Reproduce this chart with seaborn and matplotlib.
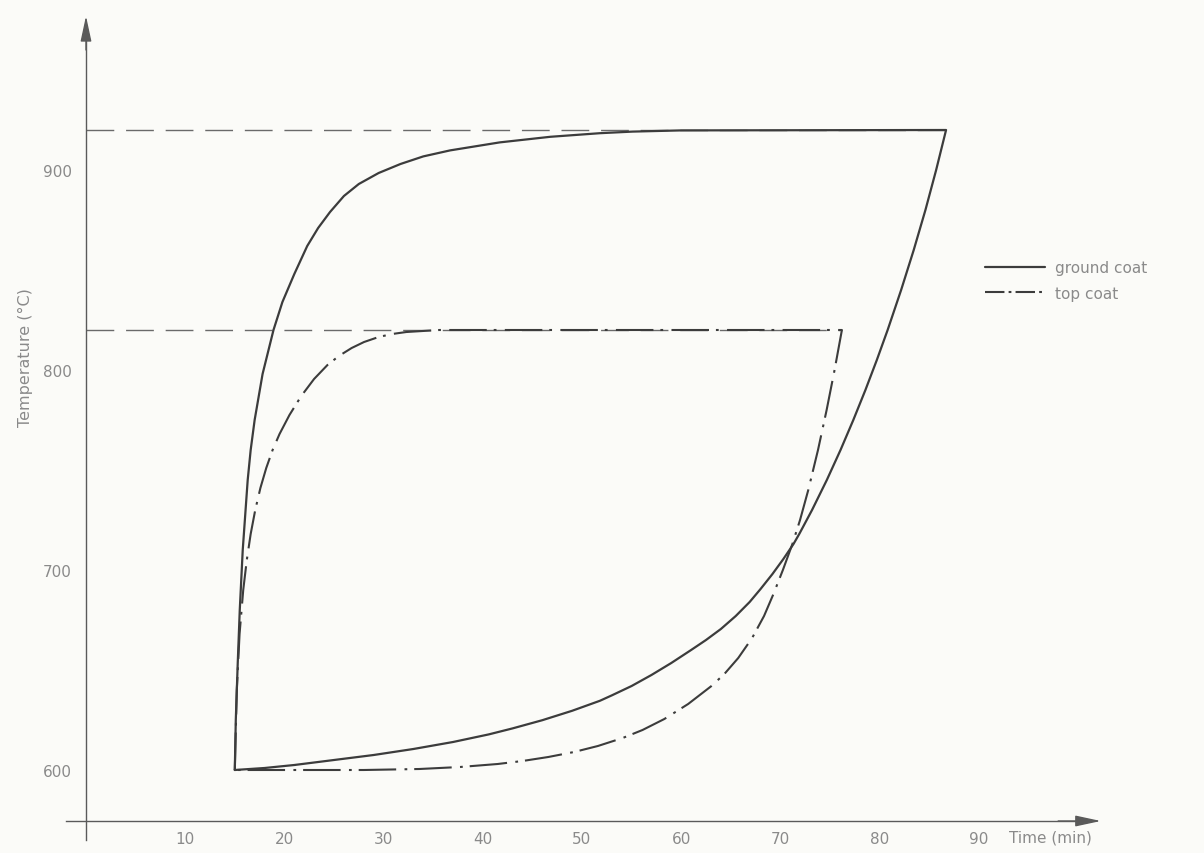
import matplotlib
matplotlib.use("Agg")
import matplotlib.pyplot as plt
from matplotlib.lines import Line2D
import pandas as pd
import seaborn as sns

# Ground coat firing cycle: heating branch, then cooling branch (time in min, temperature in °C)
ground_up_time = [15.0, 15.1, 15.3, 15.5, 15.8, 16.3, 16.6, 17.0, 17.8, 18.9, 19.8, 21.0,
                  22.3, 23.4, 24.6, 26.0, 27.5, 29.5, 31.7, 34.0, 36.7, 41.7, 46.8, 51.8,
                  55.1, 60.0, 86.7]
ground_up_temp = [600, 625, 654, 680, 710, 745, 760, 775, 798, 820, 834, 848,
                  862, 871, 879, 887, 893, 898.5, 903, 906.8, 909.8, 913.8, 916.6, 918.4,
                  919.2, 919.8, 920]
ground_down_time = [86.7, 85.7, 84.62, 83.44, 82.17, 80.81, 79.72, 78.57, 77.35, 76.06,
                    74.68, 73.19, 71.9, 71.32, 70.3, 69.2, 68.0, 66.9, 65.5, 64.0, 62.5,
                    61.0, 59.0, 57.0, 55.0, 53.0, 51.8, 49.0, 46.0, 43.0, 40.6, 37.0,
                    33.0, 29.0, 25.0, 21.0, 18.0, 15.0]
ground_down_temp = [920, 900, 880, 860, 840, 820, 805, 790, 775, 760,
                    745, 730, 718, 713, 705.5, 698, 690.5, 684, 677, 670.5, 665,
                    660, 653.5, 647.5, 642, 637.3, 634.6, 629.6, 624.9, 620.8, 617.8, 614,
                    610.5, 607.5, 605, 602.5, 601, 600]

# Top coat firing cycle
top_up_time = [15.0, 15.2, 15.48, 15.85, 16.21, 16.6, 17.06, 17.58, 18.17, 18.81, 19.51,
               20.51, 21.7, 22.99, 24.34, 25.49, 26.78, 28.03, 29.5, 30.86, 32.3, 35.6,
               76.2]
top_up_temp = [600, 640, 668, 690, 705, 718, 730, 741, 751, 760, 768,
               777.5, 787, 795.5, 802.5, 807, 811, 814, 816.5, 818, 819, 820,
               820]
top_down_time = [76.2, 75.46, 74.66, 73.79, 72.81, 71.98, 71.21, 70.25, 69.3, 68.35,
                 67.15, 65.75, 64.35, 63.05, 60.7, 58.3, 56.1, 54.1, 51.6, 49.2, 46.6,
                 44.0, 41.5, 37.7, 33.6, 28.0, 20.0, 15.0]
top_down_temp = [820, 800, 780, 760, 740, 725, 713, 700, 688, 677,
                 666, 656, 648, 642, 633, 625.5, 620, 616, 612, 609, 606.5,
                 604.5, 603, 601.5, 600.5, 600, 600, 600]

# Firing temperatures held during each cycle
hold_temps = [920, 820]
hold_ends = [86.7, 76.2]

x_ticks = [10, 20, 30, 40, 50, 60, 70, 80, 90]
y_ticks = [600, 700, 800, 900]
series_labels = ["ground coat", "top coat"]

BG = "#fbfbf8"
INK = "#3c3c3c"
AXIS = "#5a5a5a"
TEXT = "#8a8a8a"

sns.set_theme(style="white")
plt.rcParams["font.family"] = ["DejaVu Sans"]
plt.rcParams["lines.scale_dashes"] = False

ground = pd.DataFrame({
    "time": ground_up_time + ground_down_time,
    "temp": ground_up_temp + ground_down_temp,
})
top = pd.DataFrame({
    "time": top_up_time + top_down_time,
    "temp": top_up_temp + top_down_temp,
})

fig = plt.figure(figsize=(12.04, 8.54), dpi=100, facecolor=BG)
ax = fig.add_axes([0, 0, 1, 1])
ax.set_facecolor(BG)

# data window: 9.92 px per minute with the origin 86 px from the left,
# 2 px per degree with 600 °C sitting 771 px from the top
ax.set_xlim(-86 / 9.92, (1204 - 86) / 9.92)
ax.set_ylim(600 - (854 - 771) / 2, 600 + 771 / 2)

x_axis_temp = 574.5

# dashed guide lines at the firing temperatures
for level, end in zip(hold_temps, hold_ends):
    ax.plot([0, end], [level, level], color="#6a6a6a", lw=1.0,
            linestyle=(0, (20, 8.5)), zorder=2)

dashdot = (0, (27, 5, 2, 6))
sns.lineplot(data=ground, x="time", y="temp", sort=False, estimator=None,
             color=INK, lw=1.6, ax=ax, zorder=3)
sns.lineplot(data=top, x="time", y="temp", sort=False, estimator=None,
             color=INK, lw=1.5, linestyle=dashdot, ax=ax, zorder=3)

# axes drawn as arrows through the origin
for side in ("top", "right"):
    ax.spines[side].set_visible(False)
ax.spines["left"].set_position(("data", 0))
ax.spines["bottom"].set_position(("data", x_axis_temp))
ax.spines["left"].set_bounds(565, 970)
ax.spines["bottom"].set_bounds(-2, 100)
for side in ("left", "bottom"):
    ax.spines[side].set_color(AXIS)
    ax.spines[side].set_linewidth(1.0)

arrow = dict(arrowstyle="-|>,head_length=1.3,head_width=0.28", color=AXIS, lw=1.0,
             mutation_scale=12, shrinkA=0, shrinkB=0)
ax.annotate("", xy=(0, 977), xytext=(0, 960), arrowprops=arrow)
ax.annotate("", xy=(102.3, x_axis_temp), xytext=(98, x_axis_temp), arrowprops=arrow)

ax.set_xticks(x_ticks)
ax.set_yticks(y_ticks)
ax.tick_params(axis="x", direction="inout", length=7, width=1, color=AXIS,
               pad=4, labelsize=11, labelcolor=TEXT)
ax.tick_params(axis="y", direction="out", length=6, width=1, color=AXIS,
               pad=4, labelsize=11, labelcolor=TEXT)
ax.grid(False)
ax.set_xlabel("")
ax.set_ylabel("Temperature (°C)", fontsize=11.5, color=TEXT)
ax.yaxis.set_label_coords(33 / 1204, 1 - 358 / 854)

ax.text(93.0, x_axis_temp - 8, "Time (min)", fontsize=11, color=TEXT,
        ha="left", va="center")

handles = [Line2D([], [], color=INK, lw=1.6),
           Line2D([], [], color=INK, lw=1.5, linestyle=(0, (14, 3, 2, 3)))]
leg = ax.legend(handles, series_labels, loc="upper left",
                bbox_to_anchor=(985 / 1204, 1 - 261 / 854),
                bbox_transform=fig.transFigure, frameon=False,
                handlelength=3.9, handletextpad=0.65, labelspacing=0.7,
                fontsize=11, borderpad=0, borderaxespad=0)
for t in leg.get_texts():
    t.set_color(TEXT)

fig.savefig("out.png", dpi=100, facecolor=BG)
